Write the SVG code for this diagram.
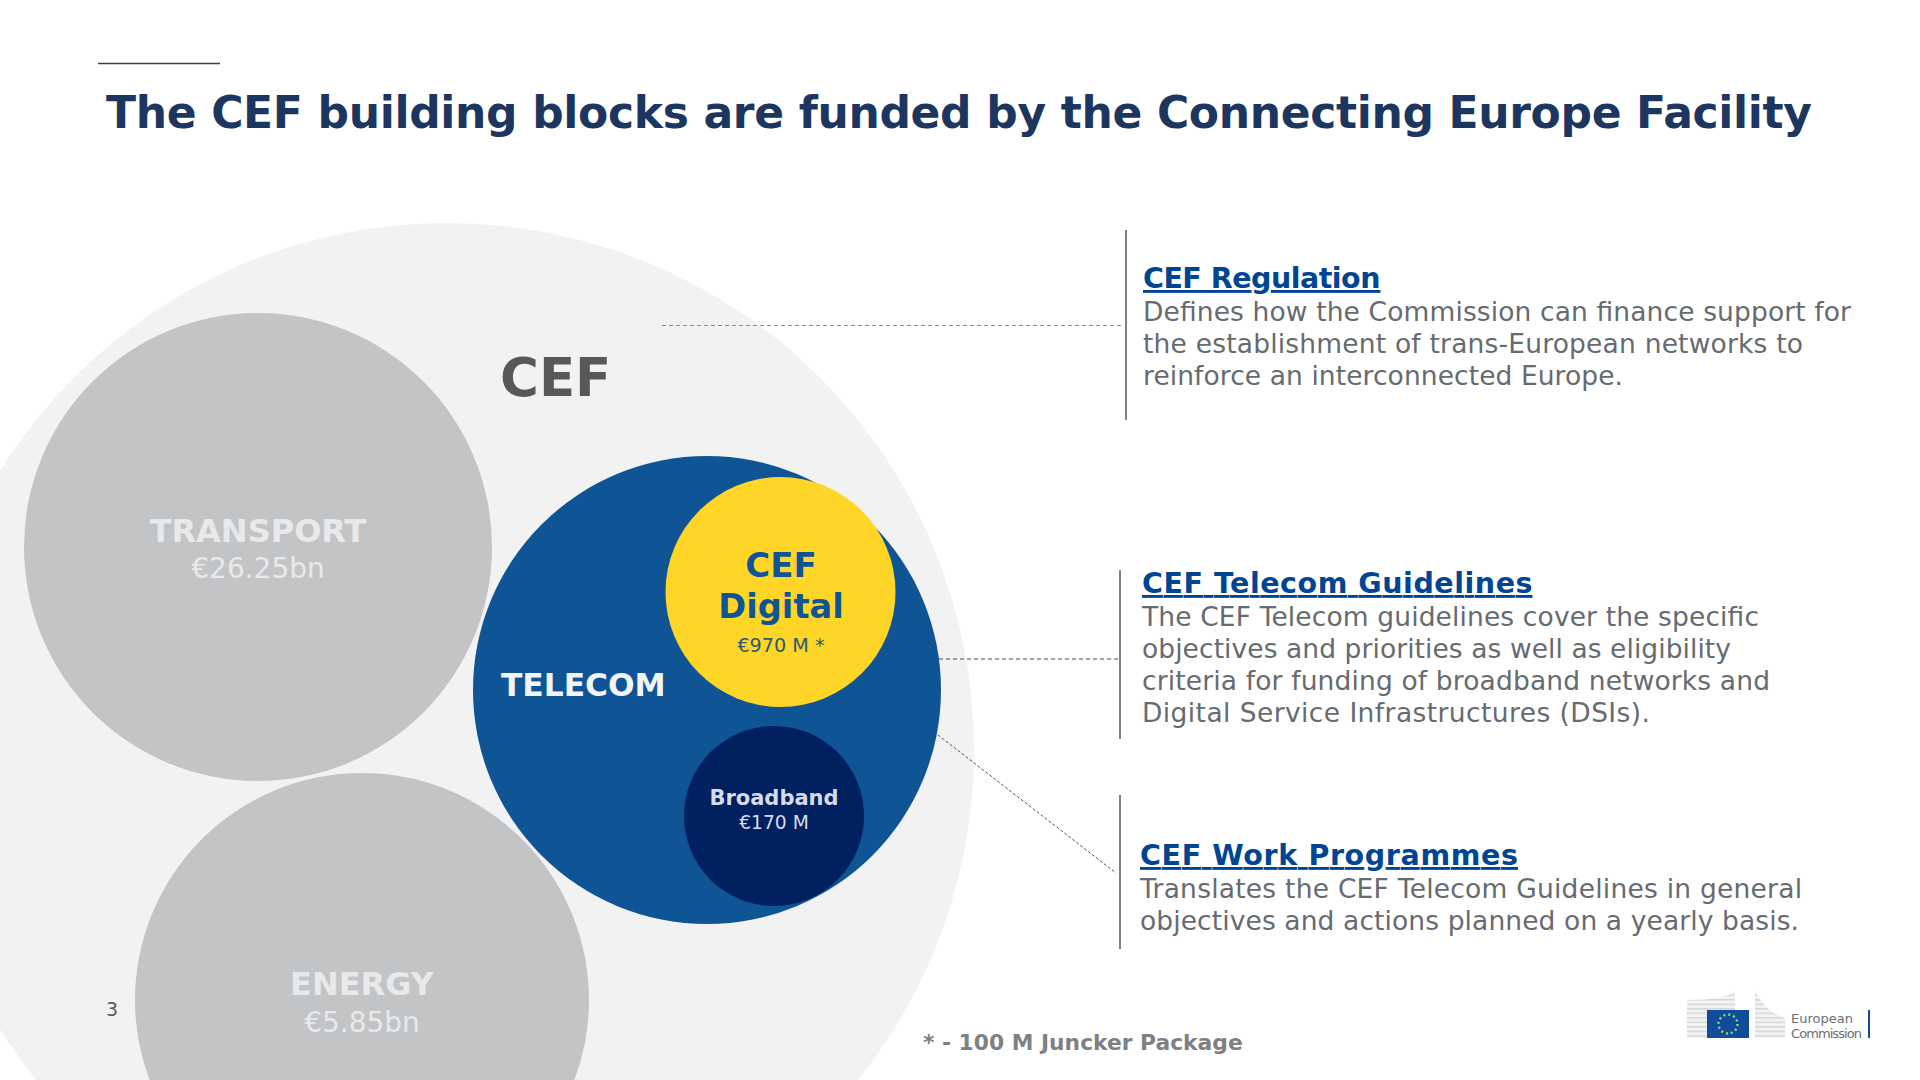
<svg xmlns="http://www.w3.org/2000/svg" width="1920" height="1080" viewBox="0 0 1920 1080">
<style>
text{font-family:"DejaVu Sans",Verdana,sans-serif}
.b{font-weight:700}
.h{font-size:28.500px;font-weight:700;fill:#004494;text-decoration:underline}
.p{font-size:26.500px;fill:#666b70}
.bar{stroke:#7f7f7f;stroke-width:2;fill:none}
.dash{fill:none;stroke-width:1}
.m{text-anchor:middle}
</style>
<defs>
<pattern id="stripes" width="4" height="4.500" patternUnits="userSpaceOnUse"><rect width="4" height="4.500" fill="#f2f3f3"/><rect width="4" height="1.500" fill="#d4d6d8"/></pattern>
</defs>
<rect width="1920" height="1080" fill="#fff"/>
<g id="header">
<line x1="98" y1="63.500" x2="220" y2="63.500" stroke="#404040" stroke-width="1.500"/>
<text x="106" y="128" class="b" font-size="44" fill="#1d3660" textLength="1706" lengthAdjust="spacing">The CEF building blocks are funded by the Connecting Europe Facility</text>
</g>
<g id="cef"><circle cx="447" cy="750" r="527" fill="#f2f2f3"/>
<text x="500" y="396" class="b" font-size="53" fill="#57585a">CEF</text></g>
<g id="transport"><circle cx="258" cy="547" r="234" fill="#c3c4c6"/>
<text x="258" y="542" class="b m" font-size="32" fill="#e8e9ea">TRANSPORT</text>
<text x="258" y="578" class="m" font-size="28" fill="#e8e9ea">€26.25bn</text></g>
<g id="energy"><circle cx="362" cy="1000" r="227" fill="#c3c4c6"/>
<text x="362" y="995" class="b m" font-size="32" fill="#e8e9ea">ENERGY</text>
<text x="362" y="1032" class="m" font-size="28" fill="#e8e9ea">€5.85bn</text></g>
<g id="telecom"><circle cx="707" cy="690" r="234" fill="#0f5494"/>
<text x="501" y="696" class="b" font-size="31.300" fill="#f2f4f7">TELECOM</text></g>
<g id="cef-digital"><circle cx="780.500" cy="592" r="115" fill="#ffd627"/>
<text x="781" y="577" class="b m" font-size="34" fill="#0f5494">CEF</text>
<text x="781" y="618" class="b m" font-size="33.700" fill="#0f5494">Digital</text>
<text x="781" y="652" class="m" font-size="19.200" fill="#2d5a6e">€970 M *</text></g>
<g id="broadband"><circle cx="774" cy="816" r="90" fill="#00205f"/>
<text x="774" y="805" class="b m" font-size="21" fill="#d5dbe8">Broadband</text>
<text x="774" y="829" class="m" font-size="18.700" fill="#d5dbe8">€170 M</text></g>
<g id="connectors">
<line x1="662" y1="325.500" x2="1122" y2="325.500" class="dash" stroke="#7f8c99" stroke-dasharray="4 3"/>
<line x1="939" y1="659" x2="1120" y2="659" class="dash" stroke="#2f5070" stroke-dasharray="4 3"/>
<line x1="938" y1="735" x2="1116" y2="873" class="dash" stroke="#4a5560" stroke-dasharray="3 2"/>
</g>
<g id="regulation">
<line x1="1126" y1="230" x2="1126" y2="420" class="bar"/>
<text x="1143" y="288" class="h" textLength="237.500" lengthAdjust="spacing">CEF Regulation</text>
<text x="1143" y="321" class="p" textLength="708" lengthAdjust="spacing">Defines how the Commission can finance support for</text>
<text x="1143" y="353" class="p" textLength="660" lengthAdjust="spacing">the establishment of trans-European networks to</text>
<text x="1143" y="385" class="p" textLength="480" lengthAdjust="spacing">reinforce an interconnected Europe.</text>
</g>
<g id="guidelines">
<line x1="1120" y1="570" x2="1120" y2="739" class="bar"/>
<text x="1142" y="593" class="h" textLength="390.500" lengthAdjust="spacing">CEF Telecom Guidelines</text>
<text x="1142" y="626" class="p" textLength="617" lengthAdjust="spacing">The CEF Telecom guidelines cover the specific</text>
<text x="1142" y="658" class="p" textLength="589" lengthAdjust="spacing">objectives and priorities as well as eligibility</text>
<text x="1142" y="690" class="p" textLength="628" lengthAdjust="spacing">criteria for funding of broadband networks and</text>
<text x="1142" y="722" class="p" textLength="508" lengthAdjust="spacing">Digital Service Infrastructures (DSIs).</text>
</g>
<g id="programmes">
<line x1="1120" y1="795" x2="1120" y2="949" class="bar"/>
<text x="1140" y="865" class="h" textLength="378" lengthAdjust="spacing">CEF Work Programmes</text>
<text x="1140" y="898" class="p" textLength="662" lengthAdjust="spacing">Translates the CEF Telecom Guidelines in general</text>
<text x="1140" y="930" class="p" textLength="659" lengthAdjust="spacing">objectives and actions planned on a yearly basis.</text>
</g>
<g id="footer">
<text x="106" y="1016" font-size="19" fill="#5a5a5a">3</text>
<text x="923" y="1050" class="b" font-size="21.800" fill="#7f8082">* - 100 M Juncker Package</text>
</g>
<g id="logo">
<path d="M1687 1000 L1687 1038 L1735 1038 L1735 991 Q1725 1000 1687 1000Z" fill="url(#stripes)"/>
<path d="M1755 991 L1755 1038 L1785 1038 L1785 1018 Q1765 1012 1755 991Z" fill="url(#stripes)"/>
<rect x="1707" y="1010" width="42" height="28" fill="#0f4c9a"/>
<circle cx="1728" cy="1024" r="9.500" fill="none" stroke="#a8d060" stroke-width="2.500" stroke-dasharray="2 2.970"/>
<text x="1791" y="1023" font-size="13" fill="#6b6e72">European</text>
<text x="1791" y="1038" font-size="13" fill="#6b6e72" textLength="71" lengthAdjust="spacing">Commission</text>
<rect x="1868" y="1010" width="2" height="28" fill="#0f4c9a"/>
</g>
</svg>
